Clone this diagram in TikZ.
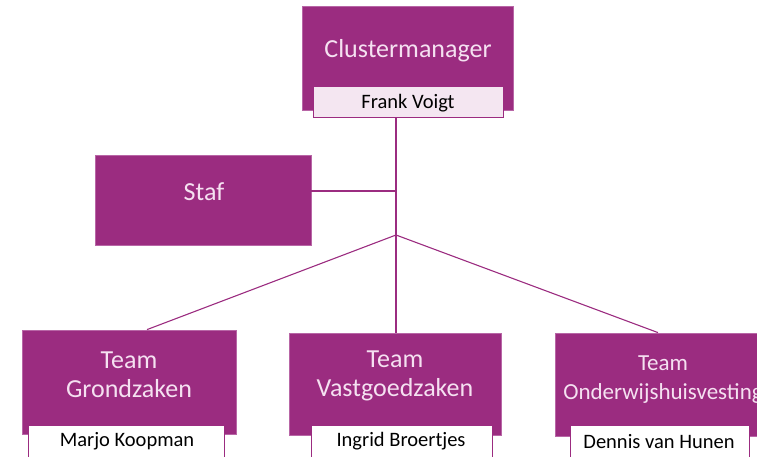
\documentclass[tikz,border=0pt]{standalone}
\usepackage{fontspec}
\setmainfont{Carlito}
\definecolor{plum}{HTML}{9B2C80}
\definecolor{plumedge}{HTML}{B866A6}
\definecolor{pinktxt}{HTML}{F5E1F1}
\definecolor{namefill}{HTML}{F4E6F1}
\begin{document}
\begin{tikzpicture}[x=1pt,y=-1pt,
  box/.style={rectangle, fill=plum, draw=plumedge, line width=0.8pt, inner sep=0pt},
  namebox/.style={rectangle, draw=plum, line width=1pt, inner sep=0pt},
  head/.style={text=pinktxt, font=\fontsize{26}{29}\selectfont, align=center, inner sep=0pt},
  who/.style={text=black, font=\fontsize{20.5}{22}\selectfont, inner sep=0pt},
  conn/.style={draw=plum, line width=1.1pt}]
\useasboundingbox (0,0) rectangle (757,457);
\clip (0,0) rectangle (757,457);
% boxes
\node[box, minimum width=211, minimum height=104] (cm) at (407.5,58) {};
\node[box, minimum width=216, minimum height=90] (staf) at (203,200) {};
\node[box, minimum width=214, minimum height=104] (gz) at (129,382) {};
\node[box, minimum width=212, minimum height=102] (vg) at (395,384) {};
\node[box, minimum width=206, minimum height=103] (ow) at (658,384.5) {};
% name boxes
\node[namebox, fill=namefill, minimum width=190, minimum height=31] (cmn) at (408,102.5) {};
\node[namebox, fill=white, minimum width=196, minimum height=36] (gzn) at (126,443) {};
\node[namebox, fill=white, minimum width=181, minimum height=36] (vgn) at (401.5,443) {};
\node[namebox, fill=white, minimum width=179, minimum height=36] (own) at (659.5,443) {};
% texts
\node[head] (cmt) at (408,51) {Clustermanager};
\node[head] (staft) at (204,192) {Staf};
\node[head] (gzt) at (129,375) {Team\\Grondzaken};
\node[head] (vgt) at (395,376) {Team\\Vastgoedzaken};
\node[head, font=\fontsize{23}{29}\selectfont] (owt) at (663,380) {Team\\Onderwijshuisvesting};
\node[who] (cmw) at (408,103) {Frank Voigt};
\node[who] (gzw) at (127,441) {Marjo Koopman};
\node[who] (vgw) at (401,441) {Ingrid Broertjes};
\node[who] (oww) at (659,442) {Dennis van Hunen};
% connectors
\coordinate (br) at (396,235);
\coordinate (st) at (396,191);
\path[conn] (396,118) coordinate (top) -- (vg.north -| top);
\path[conn] (staf.east |- st) -- (st);
\path[conn] (br) -- ([xshift=18pt]gz.north);
\path[conn] (br) -- (ow.north);
\end{tikzpicture}
\end{document}
